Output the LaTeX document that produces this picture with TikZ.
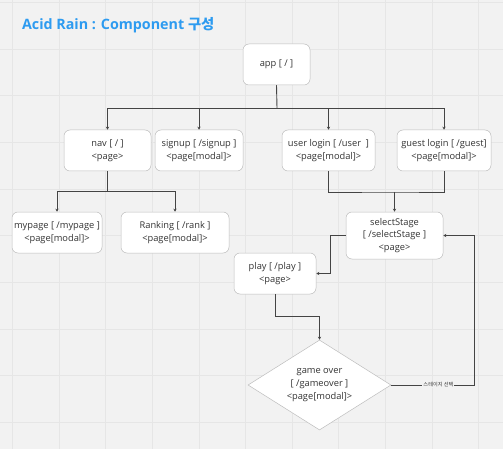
\documentclass[tikz,border=0pt]{standalone}
\usepackage{fontspec}
\setmainfont{Open Sans}
\newfontfamily\cjk{Noto Sans CJK KR}
\usetikzlibrary{shapes.geometric,arrows.meta}
\definecolor{bgc}{HTML}{F2F2F2}
\definecolor{gridc}{HTML}{E6E6E6}
\definecolor{linec}{HTML}{444444}
\definecolor{boxb}{HTML}{BDBDBD}
\definecolor{txtc}{HTML}{333333}
\definecolor{titlec}{HTML}{2D9BF0}
\begin{document}
\begin{tikzpicture}[x=1pt,y=-1pt,
  box/.style={draw=boxb,line width=0.5pt,fill=white,rounded corners=6pt,
    align=center,text=txtc,font=\fontsize{9.3}{12.8}\selectfont,inner sep=0pt},
  conn/.style={draw=linec,line width=0.9pt},
  arr/.style={conn,-{Stealth[length=3pt,width=3pt]}},
  lbl/.style={fill=bgc,inner sep=1pt,text=txtc,font=\cjk\fontsize{5.2}{6}\selectfont}]
\fill[bgc] (0,0) rectangle (503,449);
\useasboundingbox (0,0) rectangle (503,449);
\foreach \i in {0,...,10} {\draw[gridc,line width=0.6pt] (12.5+46.6*\i,0) -- (12.5+46.6*\i,449);}
\foreach \i in {0,...,9} {\draw[gridc,line width=0.6pt] (0,2.6+46.6*\i) -- (503,2.6+46.6*\i);}
\node[anchor=west,text=titlec,font=\bfseries\fontsize{14.3}{16}\selectfont] (title) at (18.5,25) {Acid Rain : Component {\cjk 구성}};
\node[box,minimum width=67pt,minimum height=41pt] (app) at (276.5,64.5) {app [ / ]};
\node[box,minimum width=87pt,minimum height=41pt] (nav) at (107.5,150.5) {nav [ / ]\\<page>};
\node[box,minimum width=88pt,minimum height=41pt] (signup) at (199,150.5) {signup [ /signup ]\\<page[modal]>};
\node[box,minimum width=93pt,minimum height=41pt] (user) at (328.5,150.5) {user login [ /user~~]\\<page[modal]>};
\node[box,minimum width=94pt,minimum height=41pt] (guest) at (444,150.5) {guest login [ /guest]\\<page[modal]>};
\node[box,minimum width=90pt,minimum height=41pt] (mypage) at (57,232.5) {mypage [ /mypage ]\\<page[modal]>};
\node[box,minimum width=108pt,minimum height=41pt] (rank) at (175,232.5) {Ranking [ /rank ]\\<page[modal]>};
\node[box,minimum width=97pt,minimum height=47pt] (sel) at (394.5,235.5) {selectStage\\{[} /selectStage ]\\<page>};
\node[box,minimum width=82pt,minimum height=41pt] (play) at (275,273.5) {play [ /play ]\\<page>};
\node[box,shape=diamond,rounded corners=0pt,aspect=1.589,minimum width=143pt,minimum height=90pt] (over) at (319.5,385) {game over\\{[} /gameover ]\\<page[modal]>};
\coordinate (bus) at (277,108);
\coordinate (navbus) at (107.5,191);
\coordinate (join) at (394.5,192);
\draw[conn] (app.south) -- (bus);
\draw[arr] (bus) -| (nav.north);
\draw[arr] (bus) -| (signup.north);
\draw[arr] (bus) -| (user.north);
\draw[arr] (bus) -| (guest.north);
\draw[conn] (nav.south) -- (navbus);
\draw[arr] (navbus) -| (mypage.north);
\draw[arr] (navbus) -| (rank.north);
\draw[conn] (user.south) |- (join) -| (guest.south);
\draw[arr] (join) -- (sel.north);
\draw[arr] (sel.west) -- ++(-15,0) |- (play.east);
\draw[arr] (play.south) -- ++(0,22) -| (over.north);
\draw[arr] (over.east) -- node[lbl,pos=0.57] (lab) {스테이지 선택} (474,385) |- (sel.east);
\end{tikzpicture}
\end{document}
